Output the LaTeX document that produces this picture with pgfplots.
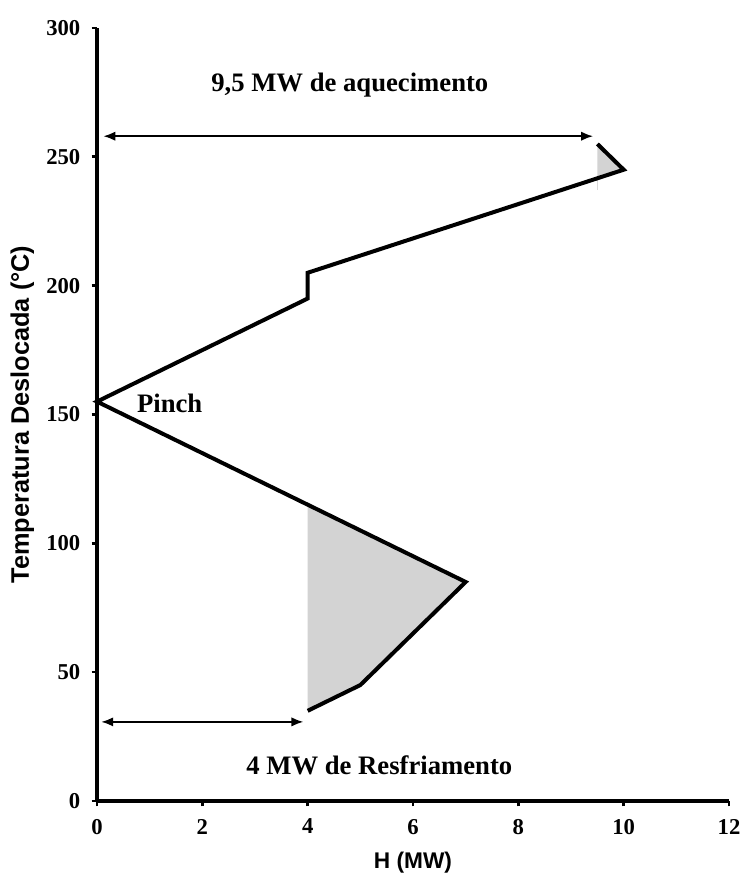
\documentclass[border=0pt]{standalone}
\usepackage{pgfplots}
\pgfplotsset{compat=1.18}
\usepackage{fontspec}
\setmainfont{Liberation Serif}
\newfontfamily\arialfont{Liberation Sans}
\usetikzlibrary{arrows.meta,calc}
\definecolor{shade}{RGB}{211,211,211}
\begin{document}
\begin{tikzpicture}[x=0.75pt,y=0.75pt]
\begin{axis}[name=ax,
  scale only axis,
  width=474pt, height=579.75pt,
  xmin=0, xmax=12, ymin=0, ymax=300,
  axis lines*=left,
  axis line style={line width=2.6pt, black},
  xtick={0,2,...,12}, ytick={0,50,...,300},
  tick align=outside,
  major tick length=4pt,
  tick style={line width=2pt, black},
  /pgf/number format/assume math mode=true,
  ticklabel style={font=\fontsize{17}{19}\selectfont\bfseries},
  xticklabel style={yshift=-6pt},
  yticklabel style={xshift=-5pt},
  xlabel={H (MW)},
  ylabel={Temperatura Deslocada (°C)},
  xlabel style={font=\arialfont\fontsize{17}{19}\selectfont\bfseries, at={(axis description cs:0.5,-0.080)}, anchor=center},
  ylabel style={font=\arialfont\fontsize{19}{21}\selectfont\bfseries, at={(axis description cs:-0.118,0.5)}, anchor=center},
  clip=false,
]
\addplot[fill=shade, draw=none] coordinates {(4,115) (7,85) (5,45) (4,35)};
\addplot[fill=shade, draw=none] coordinates {(9.5,255) (10,245) (9.5,241.7)};
\addplot[draw=white!85!black, line width=0.6pt] coordinates {(9.5,241.7) (9.5,237)};
\addplot[black, line width=3pt, line join=miter] coordinates {
 (9.5,255) (10,245) (4,205) (4,195) (0,155) (7,85) (5,45) (4,35)};
\addplot[black, line width=1.4pt, {Latex[length=9pt,width=7pt]}-{Latex[length=9pt,width=7pt]}] coordinates {(0.12,258) (9.42,258)};
\addplot[black, line width=1.4pt, {Latex[length=9pt,width=7pt]}-{Latex[length=9pt,width=7pt]}] coordinates {(0.08,30.7) (3.92,30.7)};
\node[font=\fontsize{20}{22}\selectfont\bfseries] at (axis cs:4.8,278) {9,5 MW de aquecimento};
\node[font=\fontsize{20}{22}\selectfont\bfseries] at (axis cs:5.36,14) {4 MW de Resfriamento};
\node[font=\fontsize{20}{22}\selectfont\bfseries] at (axis cs:1.38,154.5) {Pinch};
\end{axis}
\pgfresetboundingbox
\path ($(ax.south west)+(-97,-75)$) rectangle ($(ax.north east)+(14,28)$);
\end{tikzpicture}
\end{document}
